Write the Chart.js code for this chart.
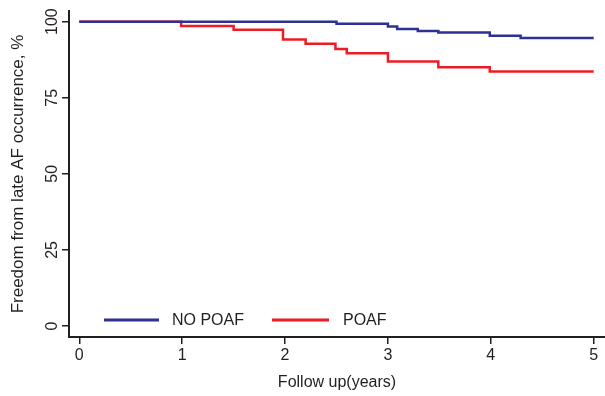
<!DOCTYPE html>
<html>
<head>
<meta charset="utf-8">
<script src="https://cdn.jsdelivr.net/npm/chart.js@4/dist/chart.umd.min.js"></script>
<style>
  html, body { margin: 0; padding: 0; background: #fff; }
  #wrap { width: 605px; height: 396px; }
</style>
</head>
<body>
<div id="wrap"><canvas id="kmChart" width="605" height="396"></canvas></div>
<script>
/* global Chart */

// follow up times (years) and survival (%)
const noPoafTimes = [0, 2.5, 3.0, 3.09, 3.29, 3.49, 3.99, 4.29, 5]
const noPoafSurv = [100, 99.3, 98.4, 97.6, 96.9, 96.4, 95.4, 94.6, 94.6]
const poafTimes = [0, 0.99, 1.5, 1.98, 2.2, 2.49, 2.6, 3.0, 3.49, 3.99, 5]
const poafSurv = [100, 98.6, 97.3, 94.1, 92.7, 91.0, 89.6, 86.9, 85.0, 83.6, 83.6]

const seriesLabels = ['NO POAF', 'POAF']
const xTicks = [0, 1, 2, 3, 4, 5]
const yTicks = [0, 25, 50, 75, 100]

const axisColor = '#231f20'
const fontFamily = '"Liberation Sans", Arial, sans-serif'

function toPoints (times, values) {
  return times.map((t, i) => ({ x: t, y: values[i] }))
}

// legend sits inside the plot, near the bottom-left
const insideLegend = {
  id: 'insideLegend',
  afterDatasetsDraw (chart) {
    const { ctx, chartArea } = chart
    const y = chartArea.bottom - 17
    const items = [
      { x: chartArea.left + 35, w: 55, tx: chartArea.left + 103 },
      { x: chartArea.left + 203, w: 57, tx: chartArea.left + 274 }
    ]
    ctx.save()
    ctx.font = '16px ' + fontFamily
    ctx.textBaseline = 'middle'
    ctx.fillStyle = axisColor
    chart.data.datasets.forEach((ds, i) => {
      const it = items[i]
      ctx.strokeStyle = ds.borderColor
      ctx.lineWidth = 3
      ctx.beginPath()
      ctx.moveTo(it.x, y)
      ctx.lineTo(it.x + it.w, y)
      ctx.stroke()
      ctx.fillText(ds.label, it.tx, y + 1)
    })
    ctx.restore()
  }
}

const ctx = document.getElementById('kmChart').getContext('2d')
const chart = new Chart(ctx, {
  type: 'line',
  data: {
    datasets: [
      {
        label: seriesLabels[0],
        data: toPoints(noPoafTimes, noPoafSurv),
        borderColor: '#2e3192',
        borderWidth: 2.5,
        stepped: true,
        pointRadius: 0,
        fill: false
      },
      {
        label: seriesLabels[1],
        data: toPoints(poafTimes, poafSurv),
        borderColor: '#ed1c24',
        borderWidth: 2.5,
        stepped: true,
        pointRadius: 0,
        fill: false
      }
    ]
  },
  options: {
    responsive: false,
    animation: false,
    layout: { padding: { top: 11, right: 0, left: 0, bottom: 0 } },
    plugins: {
      legend: { display: false },
      tooltip: { enabled: false }
    },
    scales: {
      x: {
        type: 'linear',
        min: -0.1,
        max: 5.11,
        afterBuildTicks: (scale) => { scale.ticks = xTicks.map((v) => ({ value: v })) },
        afterFit: (scale) => { scale.height = 59 },
        border: { display: true, color: axisColor, width: 2 },
        grid: { drawOnChartArea: false, drawTicks: true, tickLength: 7, color: axisColor, lineWidth: 1.5 },
        ticks: {
          color: axisColor,
          padding: 2,
          maxRotation: 0,
          font: { family: fontFamily, size: 16 }
        },
        title: {
          display: true,
          text: 'Follow up(years)',
          color: axisColor,
          padding: { top: 0, bottom: 4 },
          font: { family: fontFamily, size: 16 }
        }
      },
      y: {
        type: 'linear',
        min: -3.6,
        max: 103.5,
        afterBuildTicks: (scale) => { scale.ticks = yTicks.map((v) => ({ value: v })) },
        afterFit: (scale) => { scale.width = 69 },
        border: { display: true, color: axisColor, width: 2 },
        grid: { drawOnChartArea: false, drawTicks: true, tickLength: 7, color: axisColor, lineWidth: 1.5 },
        ticks: {
          color: axisColor,
          padding: -4,
          minRotation: 90,
          maxRotation: 90,
          crossAlign: 'center',
          font: { family: fontFamily, size: 16 }
        },
        title: {
          display: true,
          text: 'Freedom from late AF occurrence, %',
          color: axisColor,
          padding: { top: 8, bottom: 0 },
          font: { family: fontFamily, size: 17 }
        }
      }
    }
  },
  plugins: [insideLegend]
})
</script>
</body>
</html>
